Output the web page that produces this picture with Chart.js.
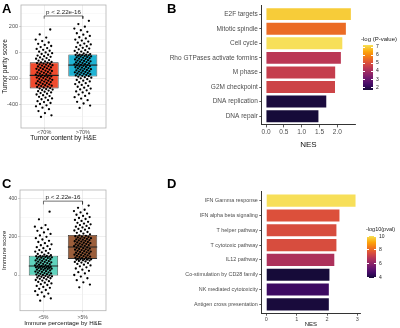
<!DOCTYPE html>
<html>
<head>
<meta charset="utf-8">
<script src="https://cdn.jsdelivr.net/npm/chart.js@4.4.1/dist/chart.umd.min.js"></script>
<style>
    body { margin: 0; width: 400px; height: 328px; position: relative; overflow: hidden; background: #fff;
           font-family: "Liberation Sans", Arial, sans-serif; }
    canvas { position: absolute; }
    .tag { position: absolute; font-weight: bold; font-size: 13px; line-height: 13px; color: #000; }
    .cb { position: absolute; }
    .cb-title, .cb-lab { position: absolute; color: #222; white-space: nowrap; line-height: 1; }
</style>
</head>
<body>
<canvas id="chartA" width="110" height="146" style="left:0;top:0"></canvas>
<canvas id="chartB" width="240" height="155" style="left:160px;top:0"></canvas>
<canvas id="chartC" width="110" height="164" style="left:0;top:164px"></canvas>
<canvas id="chartD" width="240" height="164" style="left:160px;top:164px"></canvas>
<div class="tag" style="left:2px;top:2px">A</div>
<div class="tag" style="left:167px;top:2px">B</div>
<div class="tag" style="left:2px;top:177px">C</div>
<div class="tag" style="left:167px;top:177px">D</div>
<div id="legendB"></div>
<div id="legendD"></div>
<script>
// ---- Panel A: tumor purity score ----
const groupsA = ['<70%', '>70%'];
const q1A = [-279, -186];
const medA = [-178, -98];
const q3A = [-77, -16];
const fillsA = ['#f04b2e', '#1fb3d4'];
const yTicksA = [-500, -400, -300, -200, -100, 0, 100, 200, 300];
const bracketA = [283, 262];
const pointsA1 = [-500,-488,-470,-455,-440,-428,-418,-410,-400,-392,-385,-378,-370,-363,-357,-350,-344,-338,-332,-326,-320,-315,-310,-305,-300,-296,-292,-288,-284,-280,
    -276,-272,-268,-265,-261,-258,-254,-251,-247,-244,-240,-237,-233,-230,-226,-223,-219,-216,-212,-209,-205,-202,-198,-195,-191,-188,-185,-183,-181,-179,
    -176,-172,-169,-165,-162,-158,-155,-151,-148,-144,-141,-137,-134,-130,-127,-123,-120,-116,-113,-109,-106,-102,-99,-95,-92,-89,-86,-83,-80,-78,
    -74,-69,-64,-59,-54,-49,-44,-39,-34,-29,-24,-18,-12,-6,0,6,13,20,27,34,42,50,58,67,77,88,100,115,140,178];
const pointsA2 = [-430,-412,-396,-383,-370,-358,-347,-337,-327,-318,-310,-302,-294,-287,-280,-273,-266,-259,-252,-245,-238,-231,-225,-219,-213,-207,-201,-196,-192,-188,
    -184,-181,-178,-175,-172,-169,-166,-163,-160,-157,-154,-151,-148,-145,-142,-139,-136,-133,-130,-127,-124,-121,-118,-115,-112,-109,-106,-103,-101,-99,
    -96,-93,-90,-87,-84,-81,-78,-75,-72,-69,-66,-63,-60,-57,-54,-51,-48,-45,-42,-39,-36,-33,-30,-27,-25,-23,-21,-19,-18,-17,
    -13,-8,-3,2,7,12,18,24,30,36,42,48,55,62,69,76,84,92,100,109,118,128,138,149,160,172,185,200,220,245];

// ---- Panel C: immune score ----
const groupsC = ['<5%', '>5%'];
const q1C = [-3, 84];
const medC = [47, 146];
const q3C = [101, 209];
const fillsC = ['#5fd3bd', '#9b5e3b'];
const yTicksC = [-100, 0, 100, 200, 300, 400];
const bracketC = [385, 368];
const pointsC1 = [-134,-122,-112,-104,-97,-90,-84,-78,-72,-67,-62,-57,-52,-48,-44,-40,-36,-32,-29,-26,-23,-20,-17,-15,-13,-11,-9,-7,-5,-4,
    -2,0,2,4,6,8,10,12,14,16,18,20,22,24,26,28,30,31,33,34,36,37,39,40,41,42,43,44,45,46,
    48,50,52,54,56,58,60,62,64,66,68,70,72,74,76,78,80,82,84,86,88,90,92,94,95,96,97,98,99,100,
    103,106,110,114,118,122,126,130,135,140,145,150,155,160,166,172,178,185,192,199,206,214,222,230,238,245,252,260,290,330];
const pointsC2 = [-64,-50,-38,-27,-17,-8,0,8,15,22,28,34,40,45,50,54,58,62,65,68,71,73,75,77,79,80,81,82,83,84,
    86,88,90,92,94,96,98,100,102,104,106,108,110,112,114,116,118,120,122,124,126,128,130,132,134,136,138,140,142,144,
    148,150,152,154,156,158,160,162,164,166,168,170,172,174,176,178,180,182,184,186,188,190,192,194,196,198,200,202,204,207,
    212,216,220,224,228,232,236,240,244,248,252,256,260,264,268,272,277,282,287,292,297,302,308,314,320,326,333,340,350,362];

// ---- Panel B: GSEA hallmark / reactome ----
const pathwaysB = ['E2F targets', 'Mitotic spindle', 'Cell cycle', 'Rho GTPases activate formins',
    'M phase', 'G2M checkpoint', 'DNA replication', 'DNA repair'];
const nesB = [2.38, 2.24, 2.14, 2.10, 1.94, 1.935, 1.69, 1.47];
const logpB = [6.95, 5.5, 7.24, 4.35, 4.55, 4.7, 1.7, 1.63];
const nesTicksB = [0, 0.5, 1, 1.5, 2];
const legendTicksB = [2, 3, 4, 5, 6, 7];
const logpRangeB = [1.63, 7.24];

// ---- Panel D: immune pathways ----
const pathwaysD = ['IFN Gamma response', 'IFN alpha beta signaling', 'T helper pathway', 'T cytotoxic pathway',
    'IL12 pathway', 'Co-stimulation by CD28 family', 'NK mediated cytotoxicity', 'Antigen cross presentation'];
const nesD = [2.94, 2.41, 2.31, 2.31, 2.24, 2.08, 2.06, 2.06];
const logpD = [10.05, 7.6, 7.5, 7.5, 6.6, 3.85, 4.5, 3.9];
const nesTicksD = [0, 1, 2, 3];
const legendTicksD = [4, 6, 8, 10];
const logpRangeD = [3.85, 10.05];

Chart.defaults.font.family = '"Liberation Sans", Arial, sans-serif';

// inferno palette (viridis option B), trimmed a bit at both ends like the legend
const INFERNO = ['#000004', '#160b39', '#420a68', '#6a176e', '#932667', '#bc3754',
    '#dd513a', '#f37819', '#fca50a', '#f6d746', '#fcffa4'];
const CB_BEGIN = 0.1, CB_END = 0.92;

function hexRgb(h) {
    const n = parseInt(h.slice(1), 16);
    return [(n >> 16) & 255, (n >> 8) & 255, n & 255];
}

function inferno(t) {
    t = Math.max(0, Math.min(1, t)) * (INFERNO.length - 1);
    const i = Math.min(Math.floor(t), INFERNO.length - 2);
    const f = t - i;
    const a = hexRgb(INFERNO[i]), b = hexRgb(INFERNO[i + 1]);
    return 'rgb(' + a.map((c, k) => Math.round(c + (b[k] - c) * f)).join(',') + ')';
}

function fillFor(v, range) {
    return inferno(CB_BEGIN + (v - range[0]) / (range[1] - range[0]) * (CB_END - CB_BEGIN));
}

// horizontal spread of the points inside a group, like geom_jitter
const jitter = i => (((i * 0.618034 + 0.31) % 1) - 0.5) * 0.44;

const framePlugin = {
    id: 'frame',
    afterDraw(chart) {
        const { ctx, chartArea: a } = chart;
        ctx.save();
        ctx.strokeStyle = '#b3b3b3';
        ctx.lineWidth = 0.8;
        ctx.strokeRect(a.left, a.top, a.right - a.left, a.bottom - a.top);
        ctx.restore();
    }
};

function boxChart(id, o) {
    const canvas = document.getElementById(id);
    const datasets = [];

    o.points.forEach((pts, g) => {
        datasets.push({
            type: 'scatter',
            data: pts.map((y, i) => ({ x: g + 1 + jitter(i), y })),
            pointRadius: 1.15,
            pointBackgroundColor: '#000',
            pointBorderWidth: 0,
            order: 0
        });
    });

    o.median.forEach((m, g) => {
        datasets.push({
            type: 'line',
            data: [{ x: g + 1 - 0.375, y: m }, { x: g + 1 + 0.375, y: m }],
            borderColor: '#222',
            borderWidth: 1.2,
            pointRadius: 0,
            order: 1
        });
    });

    datasets.push({
        type: 'bar',
        data: o.q1.map((q, g) => ({ x: g + 1, y: [q, o.q3[g]] })),
        backgroundColor: o.fills,
        borderColor: '#333',
        borderWidth: 0.8,
        borderSkipped: false,
        barPercentage: 0.75,
        categoryPercentage: 1,
        order: 2
    });

    // significance bracket
    datasets.push({
        type: 'line',
        data: [{ x: 1, y: o.bracket[1] }, { x: 1, y: o.bracket[0] }, { x: 2, y: o.bracket[0] }, { x: 2, y: o.bracket[1] }],
        borderColor: '#333',
        borderWidth: 0.7,
        pointRadius: 0,
        order: 0
    });

    const pLabel = {
        id: 'pLabel',
        afterDatasetsDraw(chart) {
            const { ctx, scales } = chart;
            ctx.save();
            ctx.font = o.pFont + 'px "Liberation Sans", Arial, sans-serif';
            ctx.fillStyle = '#222';
            ctx.textAlign = 'center';
            ctx.textBaseline = 'bottom';
            ctx.fillText('p < 2.22e-16', scales.x.getPixelForValue(1.5), scales.y.getPixelForValue(o.bracket[0]) - 0.5);
            ctx.restore();
        }
    };

    new Chart(canvas, {
        type: 'bar',
        data: { datasets },
        options: {
            responsive: false,
            animation: false,
            events: [],
            layout: { padding: o.padding },
            plugins: { legend: { display: false }, tooltip: { enabled: false } },
            scales: {
                x: {
                    type: 'linear',
                    offset: false,
                    min: 0.4,
                    max: o.groups.length + 0.6,
                    afterBuildTicks: s => { s.ticks = o.groups.map((g, i) => ({ value: i + 1 })); },
                    afterFit: s => { s.height = o.xHeight; },
                    ticks: {
                        callback: v => o.groups[v - 1],
                        font: { size: o.tickFont },
                        color: '#4d4d4d',
                        padding: o.xTickPad,
                        maxRotation: 0,
                        autoSkip: false
                    },
                    grid: { offset: false, color: '#e3e3e3', lineWidth: 0.6, tickLength: 1.5, tickColor: '#b3b3b3' },
                    border: { display: false },
                    title: {
                        display: true,
                        text: o.xTitle,
                        color: '#111',
                        font: { size: o.titleFont },
                        padding: { top: 0, bottom: o.xTitlePad }
                    }
                },
                y: {
                    type: 'linear',
                    min: o.yMin,
                    max: o.yMax,
                    afterBuildTicks: s => { s.ticks = o.yTicks.map(v => ({ value: v })); },
                    afterFit: s => { s.width = o.yWidth; },
                    ticks: {
                        callback: v => (v % o.major === 0 ? String(v) : ''),
                        font: { size: o.tickFont },
                        color: '#4d4d4d',
                        padding: 1,
                        autoSkip: false
                    },
                    grid: {
                        color: c => (c.tick && c.tick.value % o.major === 0 ? '#e3e3e3' : '#f0f0f0'),
                        lineWidth: c => (c.tick && c.tick.value % o.major === 0 ? 0.6 : 0.4),
                        tickLength: 2,
                        tickColor: c => (c.tick && c.tick.value % o.major === 0 ? '#b3b3b3' : 'rgba(0,0,0,0)')
                    },
                    border: { display: false },
                    title: {
                        display: true,
                        text: o.yTitle,
                        color: '#111',
                        font: { size: o.titleFont },
                        padding: { top: 1, bottom: 0 }
                    }
                }
            }
        },
        plugins: [framePlugin, pLabel]
    });
}

function nesChart(id, o) {
    const canvas = document.getElementById(id);
    const top = Math.max(...o.nes);
    new Chart(canvas, {
        type: 'bar',
        data: {
            datasets: [{
                data: o.nes.map((v, i) => ({ x: v, y: i + 1 })),
                backgroundColor: o.logp.map(v => fillFor(v, o.range)),
                barPercentage: 0.82,
                categoryPercentage: 1
            }]
        },
        options: {
            indexAxis: 'y',
            responsive: false,
            animation: false,
            events: [],
            layout: { padding: o.padding },
            plugins: { legend: { display: false }, tooltip: { enabled: false } },
            scales: {
                x: {
                    type: 'linear',
                    min: -0.05 * top,
                    max: 1.05 * top,
                    afterBuildTicks: s => { s.ticks = o.xTicks.map(v => ({ value: v })); },
                    afterFit: s => { s.height = o.xHeight; },
                    ticks: {
                        callback: o.fmt,
                        font: { size: o.tickFont },
                        color: '#4d4d4d',
                        padding: o.xTickPad,
                        maxRotation: 0,
                        autoSkip: false
                    },
                    grid: { drawOnChartArea: false, tickLength: 2.5, color: '#333', lineWidth: 0.8 },
                    border: { display: true, color: '#333', width: 1 },
                    title: {
                        display: true,
                        text: 'NES',
                        color: '#111',
                        font: { size: o.titleFont },
                        padding: { top: 0, bottom: o.xTitlePad }
                    }
                },
                y: {
                    type: 'linear',
                    offset: false,
                    reverse: true,
                    min: 0.4,
                    max: o.labels.length + 0.6,
                    afterBuildTicks: s => { s.ticks = o.labels.map((l, i) => ({ value: i + 1 })); },
                    afterFit: s => { s.width = o.yWidth; },
                    ticks: {
                        callback: v => o.labels[v - 1],
                        font: { size: o.labelFont },
                        color: '#4d4d4d',
                        padding: 1.5,
                        autoSkip: false
                    },
                    grid: { offset: false, drawOnChartArea: false, tickLength: 2.5, color: '#333', lineWidth: 0.8 },
                    border: { display: true, color: '#333', width: 1 }
                }
            }
        }
    });
}

function colorbar(id, o) {
    const box = document.getElementById(id);
    const stops = [];
    for (let k = 0; k <= 20; k++) {
        stops.push(inferno(CB_BEGIN + k / 20 * (CB_END - CB_BEGIN)));
    }
    let html = '<div class="cb-title" style="left:' + o.titleX + 'px;top:' + o.titleY + 'px;font-size:' + o.titleFont + 'px">' + o.title + '</div>';
    html += '<div class="cb" style="left:' + o.x + 'px;top:' + o.y + 'px;width:' + o.w + 'px;height:' + o.h +
        'px;background:linear-gradient(to top,' + stops.join(',') + ')"></div>';
    o.ticks.forEach(v => {
        const py = o.y + (o.range[1] - v) / (o.range[1] - o.range[0]) * o.h;
        html += '<div class="cb" style="left:' + o.x + 'px;top:' + (py - 0.3) + 'px;width:2px;height:0.6px;background:#fff"></div>';
        html += '<div class="cb" style="left:' + (o.x + o.w - 2) + 'px;top:' + (py - 0.3) + 'px;width:2px;height:0.6px;background:#fff"></div>';
        html += '<div class="cb-lab" style="left:' + (o.x + o.w + 3) + 'px;top:' + (py - o.labFont / 2) + 'px;font-size:' + o.labFont + 'px">' + v + '</div>';
    });
    box.innerHTML = html;
}

boxChart('chartA', {
    groups: groupsA, q1: q1A, median: medA, q3: q3A, fills: fillsA,
    points: [pointsA1, pointsA2], bracket: bracketA,
    yMin: -586, yMax: 368, yTicks: yTicksA, major: 200,
    xTitle: 'Tumor content by H&E', yTitle: 'Tumor purity score',
    padding: { left: 0, top: 5, right: 4, bottom: 0 },
    yWidth: 21, xHeight: 18, xTitlePad: 4, xTickPad: 0,
    tickFont: 5.5, titleFont: 6.6, pFont: 6.2
});

boxChart('chartC', {
    groups: groupsC, q1: q1C, median: medC, q3: q3C, fills: fillsC,
    points: [pointsC1, pointsC2], bracket: bracketC,
    yMin: -186, yMax: 443, yTicks: yTicksC, major: 200,
    xTitle: 'Immune percentage by H&E', yTitle: 'Immune score',
    padding: { left: 0, top: 26, right: 4, bottom: 0 },
    yWidth: 20, xHeight: 17.3, xTitlePad: 1, xTickPad: 2,
    tickFont: 5, titleFont: 6.2, pFont: 6.2
});

nesChart('chartB', {
    labels: pathwaysB, nes: nesB, logp: logpB, range: logpRangeB,
    xTicks: nesTicksB, fmt: v => v.toFixed(1),
    padding: { left: 0, top: 2.8, right: 44.9, bottom: 0 },
    yWidth: 101.8, xHeight: 30.1, xTitlePad: 5, xTickPad: 1,
    tickFont: 6.5, labelFont: 6.5, titleFont: 8
});

nesChart('chartD', {
    labels: pathwaysD, nes: nesD, logp: logpD, range: logpRangeD,
    xTicks: nesTicksD, fmt: v => String(v),
    padding: { left: 0, top: 27.8, right: 40, bottom: 0 },
    yWidth: 101.85, xHeight: 14.8, xTitlePad: 0.5, xTickPad: 0.5,
    tickFont: 5.5, labelFont: 5.4, titleFont: 6
});

colorbar('legendB', {
    title: '-log (P-value)', titleX: 361, titleY: 36, titleFont: 6,
    x: 363, y: 45, w: 10, h: 45, range: logpRangeB, ticks: legendTicksB, labFont: 5
});

colorbar('legendD', {
    title: '-log10(pval)', titleX: 366, titleY: 227, titleFont: 5.5,
    x: 367, y: 235.7, w: 9, h: 42.6, range: logpRangeD, ticks: legendTicksD, labFont: 5
});
</script>
</body>
</html>
